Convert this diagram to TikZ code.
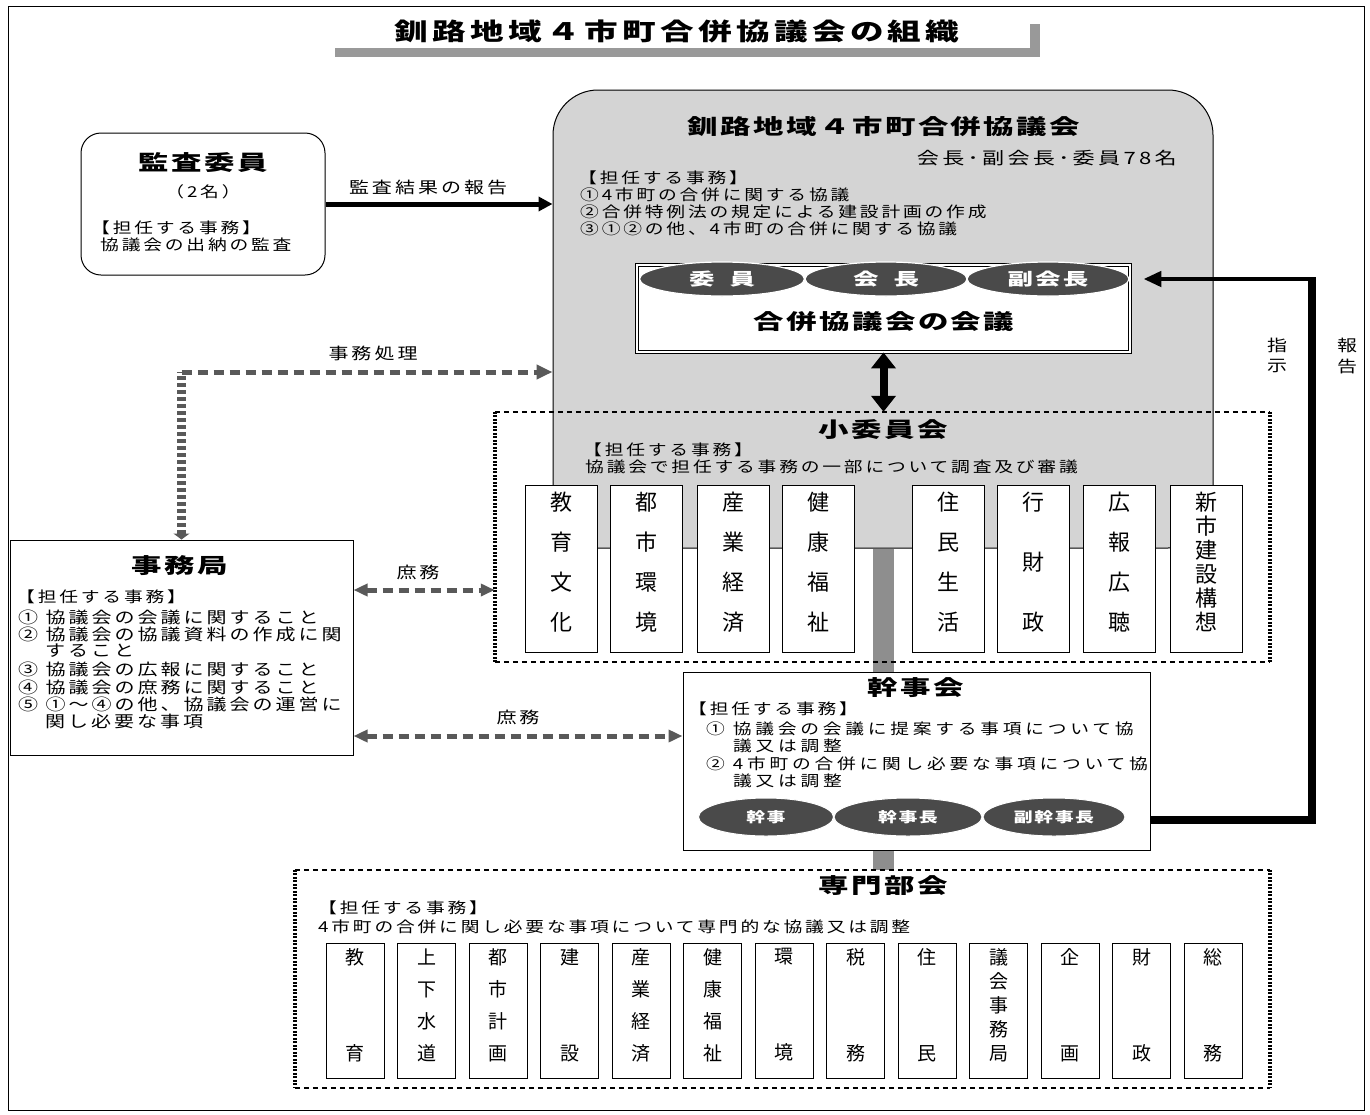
\documentclass[tikz,border=0pt]{standalone}
\usepackage{fontspec}
\usepackage{graphicx}
\usetikzlibrary{arrows.meta,calc,shapes.geometric}
\newfontfamily\jpR[LetterSpace=15]{Noto Sans CJK JP}
\newfontfamily\jpS[LetterSpace=20]{Noto Sans CJK JP}
\newfontfamily\jpT[LetterSpace=8]{Noto Sans CJK JP}
\newfontfamily\jpH[LetterSpace=13]{Noto Sans CJK JP}
\newfontfamily\jpC{Noto Sans CJK JP}
\definecolor{boxgray}{RGB}{212,212,212}
\definecolor{ellgray}{RGB}{74,74,74}
\definecolor{arrgray}{RGB}{89,89,89}
\definecolor{bargray}{RGB}{142,142,142}
\definecolor{shadgray}{RGB}{153,153,153}
\newcommand\W[1]{\scalebox{1.25}[1]{#1}}
\newcommand\WT[1]{\scalebox{1.45}[1]{#1}}
\begin{document}
\begin{tikzpicture}[x=1pt,y=-1pt,
  txt/.style={inner sep=0pt, font=\jpR\fontsize{15}{17}\selectfont},
  txtB/.style={inner sep=0pt, font=\jpS\fontsize{15}{17}\selectfont},
  lbl/.style={inner sep=0pt, font=\jpR\fontsize{16}{18}\selectfont},
  ttl/.style={inner sep=0pt, font=\jpT\bfseries\fontsize{21}{24}\selectfont},
  boxw/.style={draw, fill=white, line width=1pt, inner sep=0pt},
  dotH/.style={line width=2.5pt, dash pattern=on 5pt off 4pt},
  dotV/.style={line width=3.5pt, dash pattern=on 2pt off 1.5pt},
  dashH/.style={draw=arrgray, line width=5pt, dash pattern=on 10pt off 6pt},
  dashV/.style={draw=arrgray, line width=9pt, dash pattern=on 4pt off 3pt},
  ell/.style={ellipse, fill=ellgray, draw=white, line width=1.2pt, inner sep=0pt, text=white, font=\jpT\bfseries\fontsize{17}{20}\selectfont},
  kell/.style={ellipse, fill=ellgray, draw=white, line width=1pt, inner sep=0pt, text=white, minimum height=38pt, font=\jpT\bfseries\fontsize{14}{16}\selectfont},
  scol/.style={boxw, line width=0.9pt, minimum width=72pt, minimum height=167pt},
  bcol/.style={boxw, line width=0.9pt, minimum width=58pt, minimum height=135pt}
]
\useasboundingbox (0,0) rectangle (1370,1114);
% frame
\draw[line width=0.8pt] (8,6) rectangle (1364,1110);
% title
\fill[shadgray] (335,48) rectangle (1040,57);
\fill[shadgray] (1030,24) rectangle (1040,57);
\node[inner sep=0pt, font=\jpH\bfseries\fontsize{24}{26}\selectfont] (title) at (677,31) {\scalebox{1.4}[1]{釧路地域４市町合併協議会の組織}};

% big council box
\node[draw, line width=1pt, rounded corners=45pt, fill=boxgray, minimum width=660pt, minimum height=458pt, inner sep=0pt] (kyogi) at (883,319) {};
\node[ttl] (kyogiT) at (884,127) {\WT{釧路地域４市町合併協議会}};
\node[inner sep=0pt, anchor=east, font=\jpR\fontsize{17}{19}\selectfont] (kyogiN) at (1177,158) {\scalebox{1.3}[1]{会長･副会長･委員78名}};
\node[txt, anchor=west] (kyogi1) at (578,178) {\W{【担任する事務】}};
\node[txt, anchor=west] (kyogi2) at (580,195) {\W{①4市町の合併に関する協議}};
\node[txt, anchor=west] (kyogi3) at (580,212) {\W{②合併特例法の規定による建設計画の作成}};
\node[txt, anchor=west] (kyogi4) at (580,229) {\W{③①②の他、4市町の合併に関する協議}};

% senmon frame node (drawn later)
\node[minimum width=975pt, minimum height=218pt, inner sep=0pt] (senmon) at (782.5,979) {};
% gray bar
\draw[bargray, line width=21pt] (kyogi.south) -- (kyogi.south |- senmon.north);

% shoiin dotted frame
\node[minimum width=775pt, minimum height=250pt, inner sep=0pt] (shoiin) at (882.5,537) {};
\draw[dotH] (shoiin.north west) -- (shoiin.north east);
\draw[dotH] (shoiin.south west) -- (shoiin.south east);
\draw[dotV] (shoiin.north west) -- (shoiin.south west);
\draw[dotV] (shoiin.north east) -- (shoiin.south east);
\node[ttl] (shoiinT) at (883,430) {\WT{小委員会}};
\node[txt, anchor=west] (shoiin1) at (583,450) {\W{【担任する事務】}};
\node[txt, anchor=west] (shoiin2) at (585,467) {\W{協議会で担任する事務の一部について調査及び審議}};
\foreach \n/\x/\t/\s in {1/561/{教\\育\\文\\化}/40, 2/646/{都\\市\\環\\境}/40, 3/733/{産\\業\\経\\済}/40, 4/818/{健\\康\\福\\祉}/40, 5/948/{住\\民\\生\\活}/40, 6/1033/{行\\財\\政}/60, 7/1119/{広\\報\\広\\聴}/40, 8/1206/{新\\市\\建\\設\\構\\想}/24}{
  \node[scol] (sc\n) at (\x,568.5) {};
  \node[inner sep=0pt, align=center, font=\jpC\fontsize{22}{\s}\selectfont] (sct\n) at (\x,562) {\t};
}

% meeting box
\node[draw, line width=0.8pt, double=white, double distance=2.5pt, fill=white, minimum width=493pt, minimum height=87pt, inner sep=0pt] (kaigi) at (883.5,308.5) {};
\node[ttl] (kaigiT) at (884,322) {\WT{合併協議会の会議}};
\node[ell, minimum width=165pt, minimum height=34pt] (e1) at (722,279) {\scalebox{1.5}[1]{委\hspace{10pt}員}};
\node[ell, minimum width=162pt, minimum height=34pt] (e2) at (886,279) {\scalebox{1.5}[1]{会\hspace{10pt}長}};
\node[ell, minimum width=162pt, minimum height=34pt] (e3) at (1048,279) {\scalebox{1.5}[1]{副会長}};
\draw[line width=8pt, {Triangle[length=16pt,width=24pt]}-{Triangle[length=16pt,width=24pt]}] (kaigi.south) -- (kaigi.south |- shoiin.north);

% audit box
\node[draw, fill=white, line width=1pt, rounded corners=20pt, minimum width=244pt, minimum height=142pt, inner sep=0pt] (kansa) at (203,204) {};
\node[ttl] (kansaT) at (203,163) {\WT{監査委員}};
\node[txt] (kansaN) at (203,192) {\W{（2名）}};
\node[txt, anchor=west] (kansa1) at (91,228) {\W{【担任する事務】}};
\node[txt, anchor=west] (kansa2) at (100,245) {\W{協議会の出納の監査}};
\draw[line width=5pt, -{Triangle[length=14pt,width=14pt]}] (kansa.east) -- (kansa.east -| kyogi.west);
\node[lbl] (lblKansa) at (428,187) {\W{監査結果の報告}};

% secretariat
\node[boxw, minimum width=343pt, minimum height=215pt] (jimu) at (181.5,647.5) {};
\node[ttl] (jimuT) at (180,566) {\WT{事務局}};
\node[txt, anchor=west] (jimu1) at (16,597) {\W{【担任する事務】}};
\node[lbl, anchor=west] (jimu2) at (18,617) {\W{① 協議会の会議に関すること}};
\node[lbl, anchor=west] (jimu3) at (18,634) {\W{② 協議会の協議資料の作成に関}};
\node[lbl, anchor=west] (jimu4) at (45,651) {\W{すること}};
\node[lbl, anchor=west] (jimu5) at (18,669) {\W{③ 協議会の広報に関すること}};
\node[lbl, anchor=west] (jimu6) at (18,687) {\W{④ 協議会の庶務に関すること}};
\node[lbl, anchor=west] (jimu7) at (18,704) {\W{⑤ ①～④の他、協議会の運営に}};
\node[lbl, anchor=west] (jimu8) at (45,721) {\W{関し必要な事項}};

% jimu arrow
\coordinate (jc) at (jimu.north |- 0,372);
\draw[dashV, {Triangle[length=6pt,width=16pt]}-] (jimu.north) -- (jc);
\draw[dashH, -{Triangle[length=16pt,width=14pt]}] (jc) -- (jc -| kyogi.west);
\node[lbl] (lblJimu) at (373,353) {\W{事務処理}};

% kanji box
\node[boxw, minimum width=467pt, minimum height=178pt] (kanji) at (916.5,761) {};
\node[ttl] (kanjiT) at (916,688) {\WT{幹事会}};
\node[txt, anchor=west] (kanji1) at (688,709) {\W{【担任する事務】}};
\node[txtB, anchor=west] (kanji2) at (706,729) {\W{① 協議会の会議に提案する事項について協}};
\node[txtB, anchor=west] (kanji3) at (733,746) {\W{議又は調整}};
\node[txtB, anchor=west] (kanji4) at (706,764) {\W{② 4市町の合併に関し必要な事項について協}};
\node[txtB, anchor=west] (kanji5) at (733,781) {\W{議又は調整}};
\node[kell, minimum width=135pt] (k1) at (766,817) {\scalebox{1.35}[1]{幹事}};
\node[kell, minimum width=148pt] (k2) at (908,817) {\scalebox{1.35}[1]{幹事長}};
\node[kell, minimum width=142pt] (k3) at (1054,817) {\scalebox{1.35}[1]{副幹事長}};

% shomu arrows
\draw[dashH, {Triangle[length=14pt,width=12pt]}-{Triangle[length=14pt,width=12pt]}] (jimu.east |- 0,590) -- (shoiin.west |- 0,590);
\node[lbl] (lblShomu1) at (418,572) {\W{庶務}};
\draw[dashH, {Triangle[length=14pt,width=12pt]}-{Triangle[length=14pt,width=12pt]}] (jimu.east |- 0,736) -- (kanji.west |- 0,736);
\node[lbl] (lblShomu2) at (518,717) {\W{庶務}};

% instruction / report
\coordinate (rc1) at (1312,820);
\coordinate (rc2) at (1312,279);
\draw[line width=8pt] (kanji.east |- rc1) -- (rc1) -- ($(rc2)+(0,-2.5)$);
\draw[line width=4.5pt, shorten >=13pt, -{Triangle[length=18pt,width=15pt]}] ($(rc2)+(4,0)$) -- (kaigi.east |- rc2);
\node[lbl] (lblS1) at (1277,345) {\W{指}};
\node[lbl] (lblS2) at (1277,366) {\W{示}};
\node[lbl] (lblH1) at (1347,345) {\W{報}};
\node[lbl] (lblH2) at (1347,366) {\W{告}};

% senmon
\draw[dotH] (senmon.north west) -- (senmon.north east);
\draw[dotH] (senmon.south west) -- (senmon.south east);
\draw[dotV] (senmon.north west) -- (senmon.south west);
\draw[dotV] (senmon.north east) -- (senmon.south east);
\node[ttl] (senmonT) at (883,886) {\WT{専門部会}};
\node[txt, anchor=west] (senmon1) at (318,908) {\W{【担任する事務】}};
\node[txt, anchor=west] (senmon2) at (318,927) {\W{4市町の合併に関し必要な事項について専門的な協議又は調整}};
\foreach \n/\t/\s in {0/{教\\育}/96, 1/{上\\下\\水\\道}/32, 2/{都\\市\\計\\画}/32, 3/{建\\設}/96, 4/{産\\業\\経\\済}/32, 5/{健\\康\\福\\祉}/32, 6/{環\\境}/96, 7/{税\\務}/96, 8/{住\\民}/96, 9/{議\\会\\事\\務\\局}/24, 10/{企\\画}/96, 11/{財\\政}/96, 12/{総\\務}/96}{
  \node[bcol] (bc\n) at ({355+71.5*\n},1010.5) {};
  \node[inner sep=0pt, align=center, font=\jpC\fontsize{19}{\s}\selectfont] (bct\n) at ({355+71.5*\n},1005) {\t};
}
\end{tikzpicture}
\end{document}
